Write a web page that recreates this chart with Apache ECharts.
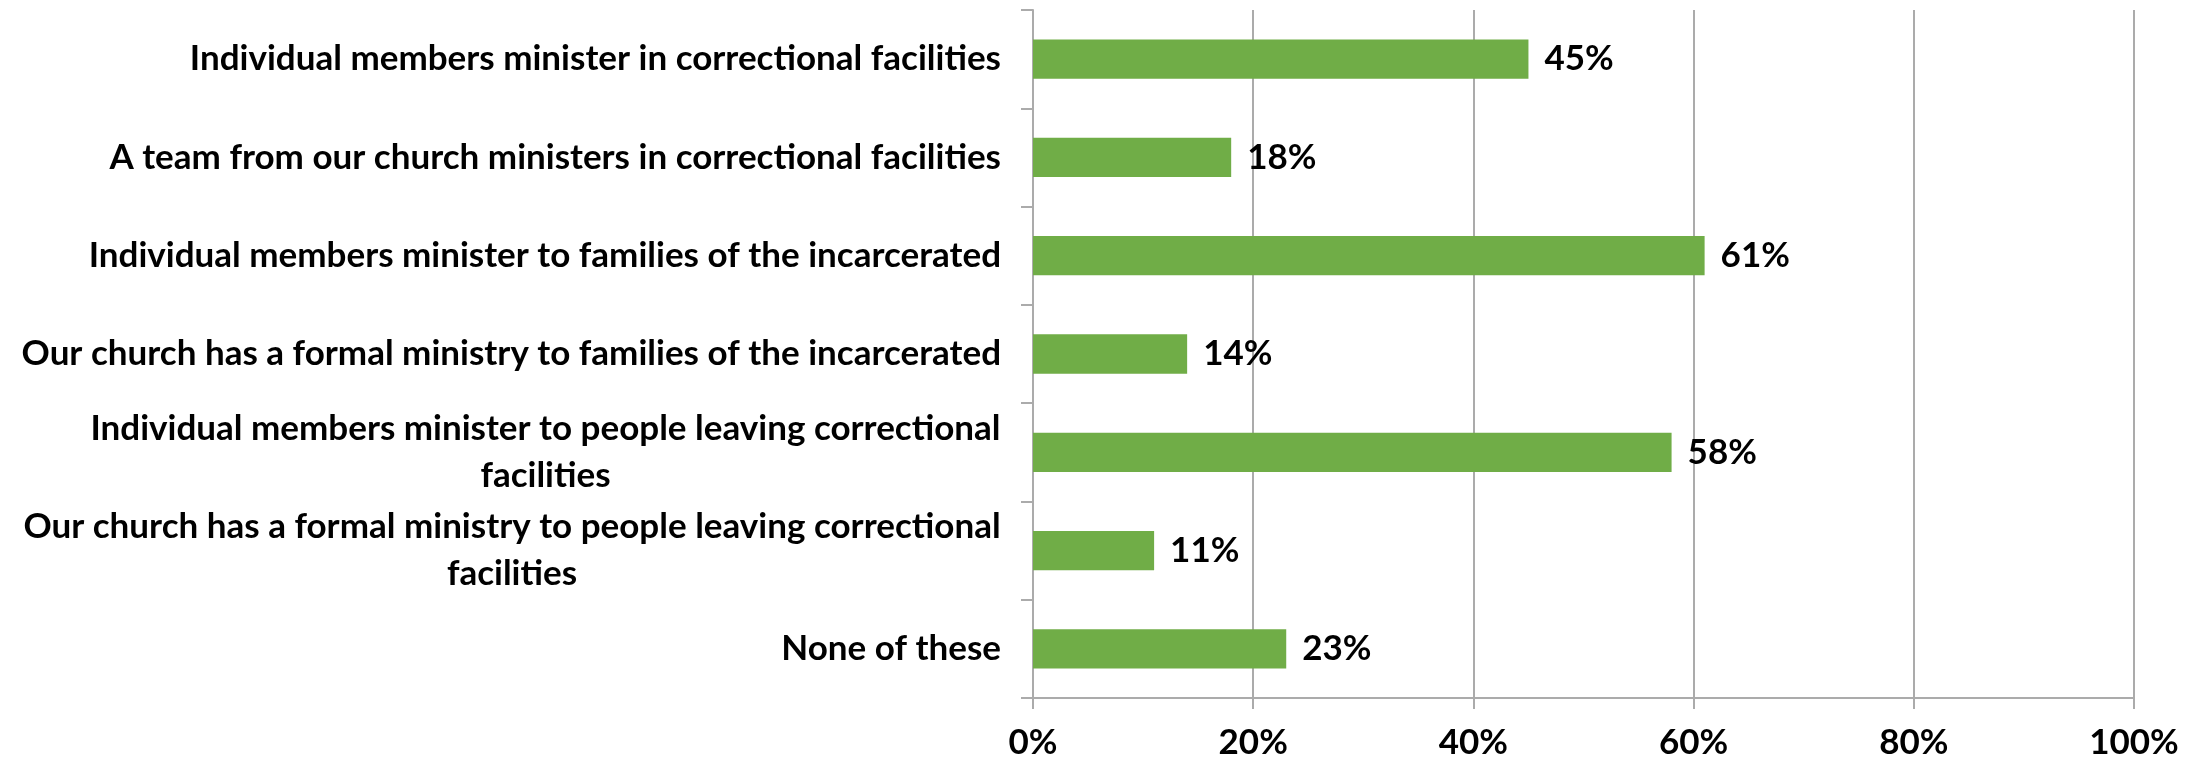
<!DOCTYPE html>
<html>
<head>
<meta charset="utf-8">
<script src="https://cdn.jsdelivr.net/npm/echarts@6/dist/echarts.min.js"></script>
<style>
  html, body { margin: 0; padding: 0; background: #fff; }
  #chart { width: 2203px; height: 763px; }
</style>
</head>
<body>
<div id="chart"></div>
<script>
// Ministry activities, top to bottom
const categories = [
  'Individual members minister in correctional facilities',
  'A team from our church ministers in correctional facilities',
  'Individual members minister to families of the incarcerated',
  'Our church has a formal ministry to families of the incarcerated',
  'Individual members minister to people leaving correctional\nfacilities',
  'Our church has a formal ministry to people leaving correctional\nfacilities',
  'None of these'
];
const shares = [45, 18, 61, 14, 58, 11, 23];
const tickValues = [0, 20, 40, 60, 80, 100];

const FONT = 'Lato';
const SIZE = 35;
const GRAY = '#ABABAB';
const GREEN = '#70AD47';

// Two-line labels: second line centred under the first, block right-aligned.
const ctx = document.createElement('canvas').getContext('2d');
ctx.font = 'bold ' + SIZE + 'px ' + FONT;
const rich = {};
categories.forEach((c, i) => {
  const lines = c.split('\n');
  if (lines.length > 1) {
    const w = Math.ceil(Math.max(...lines.map(l => ctx.measureText(l).width)));
    rich['c' + i] = { width: w, align: 'center', fontFamily: FONT, fontWeight: 'bold',
                      fontSize: SIZE, lineHeight: 47, color: '#000' };
  }
});

const chart = echarts.init(document.getElementById('chart'));
chart.setOption({
  animation: false,
  grid: { left: 1033, right: 69, top: 10, bottom: 65 },
  xAxis: {
    type: 'value',
    min: 0, max: 100, interval: 20,
    axisLine: { show: true, lineStyle: { color: GRAY, width: 2 } },
    axisTick: { show: true, length: 11, lineStyle: { color: GRAY, width: 2 } },
    splitLine: { show: true, lineStyle: { color: GRAY, width: 2 } },
    axisLabel: {
      formatter: v => tickValues.includes(v) ? v + '%' : '',
      color: '#000', fontFamily: FONT, fontWeight: 'bold', fontSize: SIZE, margin: 27
    }
  },
  yAxis: {
    type: 'category',
    inverse: true,
    data: categories,
    axisLine: { show: true, lineStyle: { color: GRAY, width: 2 } },
    axisTick: { show: true, length: 12, lineStyle: { color: GRAY, width: 2 } },
    axisLabel: {
      color: '#000', fontFamily: FONT, fontWeight: 'bold', fontSize: SIZE,
      lineHeight: 47, margin: 32, align: 'right',
      formatter: (v, i) => {
        const lines = v.split('\n');
        if (lines.length === 1) return v;
        return lines.map(l => '{c' + i + '|' + l + '}').join('\n');
      },
      rich: rich
    }
  },
  series: [{
    type: 'bar',
    data: shares,
    barCategoryGap: '60%',
    itemStyle: { color: GREEN },
    label: {
      show: true, position: 'right', distance: 16,
      formatter: p => p.value + '%',
      color: '#000', fontFamily: FONT, fontWeight: 'bold', fontSize: SIZE
    }
  }]
});
</script>
</body>
</html>
